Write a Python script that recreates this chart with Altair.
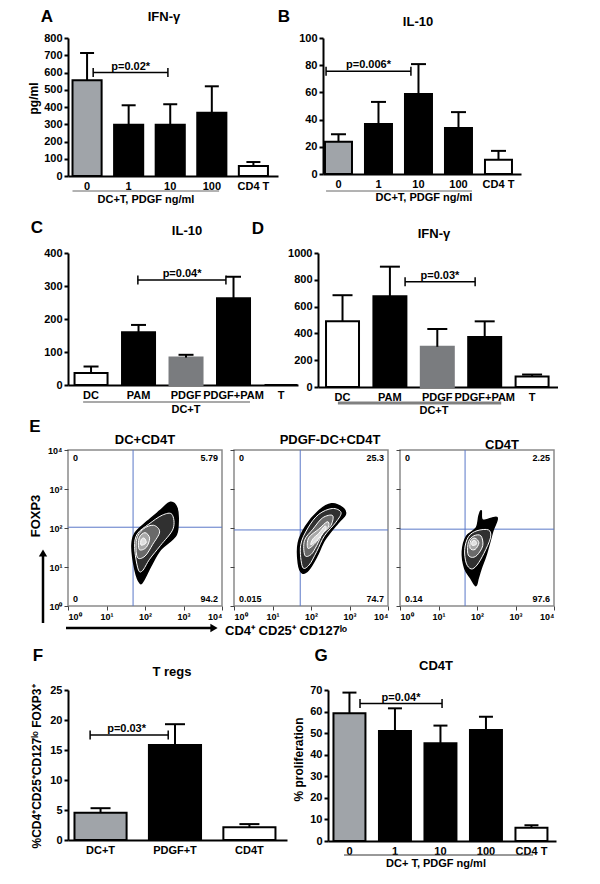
import altair as alt
import pandas as pd

FONT = "Liberation Sans"
GRAY = "#a0a4a9"
DGRAY = "#7a7c7f"
K = "black"
W = "white"

# ---------------- data ----------------
A_CATS = ["0", "1", "10", "100", "CD4 T"]
A_MEAN = [555, 297, 297, 367, 58]
A_UPPER = [713, 410, 416, 520, 81]

B_CATS = ["0", "1", "10", "100", "CD4 T"]
B_MEAN = [23.8, 36.8, 58.8, 33.8, 10.5]
B_UPPER = [29.3, 53, 80.8, 45.5, 17]

C_CATS = ["DC", "PAM", "PDGF", "PDGF+PAM", "T"]
C_MEAN = [36, 160, 83, 263, 0]
C_UPPER = [56, 182, 91.5, 328, 0]

D_CATS = ["DC", "PAM", "PDGF", "PDGF+PAM", "T"]
D_MEAN = [490, 678, 300, 373, 78]
D_UPPER = [685, 898, 433, 490, 93]

F_CATS = ["DC+T", "PDGF+T", "CD4T"]
F_MEAN = [4.55, 15.84, 2.13]
F_UPPER = [5.3, 19.3, 2.65]

G_CATS = ["0", "1", "10", "100", "CD4 T"]
G_MEAN = [59.2, 51, 45.3, 51.5, 6.2]
G_UPPER = [68.8, 61.5, 53.5, 57.6, 7.3]

# flow cytometry (log10 units): contour rings, gates, quadrant percentages
E1_RINGS = [
    [(1.87, 0.59), (1.74, 0.93), (1.66, 1.53), (1.74, 1.87), (2.06, 2.17), (2.40, 2.45), (2.66, 2.66),
     (2.83, 2.51), (2.86, 2.13), (2.79, 1.79), (2.40, 1.44), (2.15, 1.02), (1.97, 0.67)],
    [(1.82, 0.95), (1.73, 1.5), (1.80, 1.85), (2.1, 2.1), (2.45, 2.33), (2.7, 2.35), (2.73, 1.98),
     (2.4, 1.55), (2.12, 1.2), (1.93, 0.9)],
    [(1.80, 1.25), (1.78, 1.7), (1.95, 1.97), (2.22, 2.07), (2.38, 1.9), (2.2, 1.58), (2.0, 1.28)],
    [(1.85, 1.45), (1.85, 1.75), (2.0, 1.88), (2.12, 1.74), (2.03, 1.5)],
    [(1.9, 1.56), (1.9, 1.7), (1.98, 1.74), (2.03, 1.62)],
]
E2_RINGS = [
    [(1.77, 0.85), (1.67, 1.10), (1.67, 1.62), (1.86, 2.04), (2.19, 2.43), (2.53, 2.62), (2.83, 2.51),
     (2.89, 2.34), (2.70, 2.13), (2.36, 1.70), (2.15, 1.27), (1.94, 0.93)],
    [(1.78, 1.0), (1.73, 1.55), (1.92, 2.0), (2.2, 2.35), (2.55, 2.5), (2.78, 2.4), (2.65, 2.15),
     (2.35, 1.8), (2.15, 1.4), (1.95, 1.05)],
    [(1.84, 1.3), (1.83, 1.68), (2.05, 1.97), (2.3, 2.26), (2.56, 2.32), (2.52, 2.07), (2.3, 1.85),
     (2.15, 1.55), (2.0, 1.32)],
    [(1.92, 1.48), (1.94, 1.75), (2.2, 1.97), (2.42, 2.16), (2.46, 2.05), (2.3, 1.86), (2.1, 1.6)],
    [(2.0, 1.57), (2.05, 1.72), (2.2, 1.86), (2.36, 2.05), (2.38, 1.97), (2.2, 1.74)],
]
E3_RINGS = [
    [(1.97, 0.52), (1.84, 0.71), (1.68, 0.97), (1.62, 1.40), (1.73, 1.79), (1.98, 2.0), (2.05, 2.31),
     (2.11, 2.44), (2.15, 2.20), (2.52, 2.27), (2.41, 1.92), (2.24, 1.32), (2.11, 0.97), (2.03, 0.71)],
    [(1.72, 1.1), (1.68, 1.45), (1.78, 1.78), (2.0, 1.93), (2.3, 1.95), (2.35, 1.75), (2.18, 1.35),
     (2.0, 1.05), (1.85, 0.95)],
    [(1.76, 1.35), (1.78, 1.65), (1.92, 1.8), (2.1, 1.8), (2.15, 1.55), (2.0, 1.3), (1.85, 1.25)],
    [(1.82, 1.48), (1.84, 1.68), (1.95, 1.74), (2.05, 1.62), (1.95, 1.45)],
    [(1.87, 1.56), (1.88, 1.66), (1.96, 1.67), (1.98, 1.58)],
]
E_GATE_X = [1.69, 1.72, 1.69]
E_GATE_Y = [2.02, 1.95, 1.97]
E_QUAD = [["0", "5.79", "0", "94.2"], ["0", "25.3", "0.015", "74.7"], ["0", "2.25", "0.14", "97.6"]]
E_TITLES = ["DC+CD4T", "PDGF-DC+CD4T", "CD4T"]
LOG_LABELS = ["10⁰", "10¹", "10²", "10³", "10⁴"]

ONE = pd.DataFrame({"a": [0]})


def txt(text, x, y, size=11, align="center", baseline="middle", angle=0):
    kw = dict(font=FONT, fontWeight="bold", fontSize=size, align=align, baseline=baseline, color="black")
    if angle:
        kw["angle"] = angle
    return alt.Chart(pd.DataFrame({"t": [text]})).mark_text(**kw).encode(
        text="t:N", x=alt.value(x), y=alt.value(y))


def anchor(top, bottom):
    return alt.Chart(ONE).mark_rect(opacity=0).encode(
        x=alt.value(-59), x2=alt.value(-58), y=alt.value(top), y2=alt.value(bottom))


def bar_panel(p):
    cats = p["cats"]
    df = pd.DataFrame({"cat": cats, "mean": p["mean"], "upper": p["upper"],
                       "fill": p["fills"], "stroke": p["strokes"]})
    xs = alt.Scale(domain=cats, paddingInner=p["pi"], paddingOuter=p["po"], align=p["align"])
    ys = alt.Scale(domain=[0, p["ymax"]], nice=False)
    ykw = dict(values=list(range(0, p["ymax"] + 1, p["ystep"])), grid=False, format="d",
               domainColor="black", domainWidth=2, tickColor="black", tickWidth=2, tickSize=4,
               labelFont=FONT, labelFontSize=11, labelFontWeight="bold", labelColor="black",
               labelPadding=2)
    if p.get("ytitle"):
        ykw.update(title=p["ytitle"], titleFont=FONT, titleFontSize=12, titleFontWeight="bold",
                   titleColor="black", titleX=p["ytx"], titleY=p["yty"], titleAngle=270,
                   titleBaseline="middle", titleAlign="center")
    else:
        ykw.update(title=None)
    yaxis = alt.Axis(**ykw)
    xaxis = alt.Axis(title=None, labelAngle=0, ticks=False, domainColor="black", domainWidth=2,
                     labelFont=FONT, labelFontSize=11, labelFontWeight="bold", labelColor="black",
                     labelPadding=4, grid=False)

    def X(f, bp=None):
        if bp is None:
            return alt.X(f"{f}:N", scale=xs, axis=xaxis)
        return alt.X(f"{f}:N", scale=xs, axis=xaxis, bandPosition=bp)

    def Y(f):
        return alt.Y(f"{f}:Q", scale=ys, axis=yaxis)

    h = p["h"]
    layers = []
    layers.append(alt.Chart(df).mark_bar(strokeWidth=2, opacity=1).encode(
        x=X("cat"), y=Y("mean"),
        fill=alt.Fill("fill:N", scale=None),
        stroke=alt.Stroke("stroke:N", scale=None)))
    layers.append(alt.Chart(df).mark_rule(color="black", strokeWidth=2).encode(
        x=X("cat"), y=Y("mean"), y2="upper:Q"))
    layers.append(alt.Chart(df).mark_tick(color="black", thickness=2, size=p["cap"], opacity=1).encode(
        x=X("cat"), y=Y("upper")))

    b = p["bracket"]
    bdf = pd.DataFrame({"a": [b["a"]], "b": [b["b"]], "m": [b["m"]], "y": [b["y"]], "label": [b["label"]]})
    layers.append(alt.Chart(bdf).mark_rule(color="black", strokeWidth=1.5).encode(
        x=X("a", b["bpa"]), x2=alt.X2("b:N", bandPosition=b["bpb"]), y=Y("y")))
    for f, bp in (("a", b["bpa"]), ("b", b["bpb"])):
        layers.append(alt.Chart(bdf).mark_tick(orient="vertical", color="black", thickness=1.5,
                                               size=9, opacity=1).encode(x=X(f, bp), y=Y("y")))
    layers.append(alt.Chart(bdf).mark_text(font=FONT, fontSize=11, fontWeight="bold",
                                           baseline="alphabetic", dy=-3, color="black").encode(
        x=X("m", b["bpm"]), y=Y("y"), text="label:N"))

    u = p.get("underline")
    if u:
        udf = pd.DataFrame({"a": [u["a"]], "b": [u["b"]]})
        layers.append(alt.Chart(udf).mark_rule(color=u["color"], strokeWidth=u["w"]).encode(
            x=X("a", u["bpa"]), x2=alt.X2("b:N", bandPosition=u["bpb"]),
            y=alt.value(h + u["dy"])))
    g = p.get("group")
    if g:
        layers.append(txt(g[0], g[1], h + g[2], 11))
    layers.append(txt(p["title"], p["title_xy"][0], p["title_xy"][1], 13))
    layers.append(txt(p["letter"], p["letter_xy"][0], p["letter_xy"][1], 17))
    if p.get("anchor"):
        layers.append(anchor(*p["anchor"]))
    return alt.layer(*layers).properties(width=p["w"], height=h)


RING_FILLS = ["#000000", "#303030", "#6a6a6a", "#a8a8a8", "#dedede"]


def flow_panel(idx, rings, w, h, ylabels, title_dx, title_dy, extra=()):
    rows = []
    for k, ring in enumerate(rings):
        for i, (x, y) in enumerate(ring):
            rows.append({"ring": k, "i": i, "x": x, "y": y})
    df = pd.DataFrame(rows)
    xs = alt.Scale(domain=[0, 4], nice=False, zero=False)
    ys = alt.Scale(domain=[0, 4], nice=False, zero=False)
    expr = "[" + ",".join(f"'{s}'" for s in LOG_LABELS) + "][datum.value]"
    common = dict(values=[0, 1, 2, 3, 4], grid=False, domain=False, tickColor="#444", tickSize=4,
                  tickWidth=1, labelFont=FONT, labelFontSize=9, labelFontWeight="bold",
                  labelColor="black", title=None, labelExpr=expr, labelPadding=2)
    xaxis = alt.Axis(**common)
    yaxis = alt.Axis(labels=ylabels, **common)
    layers = []
    gdf = pd.DataFrame({"gx": [E_GATE_X[idx]], "gy": [E_GATE_Y[idx]]})
    layers.append(alt.Chart(gdf).mark_rule(color="#5a78c8", strokeWidth=1).encode(
        x=alt.X("gx:Q", scale=xs, axis=xaxis)))
    layers.append(alt.Chart(gdf).mark_rule(color="#5a78c8", strokeWidth=1).encode(
        y=alt.Y("gy:Q", scale=ys, axis=yaxis)))
    for k in range(len(rings)):
        layers.append(alt.Chart(df).transform_filter(alt.datum.ring == k).mark_line(
            interpolate="cardinal-closed", filled=True, fill=RING_FILLS[k],
            stroke="black" if k == 0 else "white", strokeWidth=1.5 if k == 0 else 1).encode(
            x=alt.X("x:Q", scale=xs, axis=xaxis),
            y=alt.Y("y:Q", scale=ys, axis=yaxis),
            order="i:Q"))
    q = E_QUAD[idx]
    layers.append(txt(q[0], 5, 8, 9, align="left"))
    layers.append(txt(q[1], w - 4, 8, 9, align="right"))
    layers.append(txt(q[2], 5, h - 7, 9, align="left"))
    layers.append(txt(q[3], w - 4, h - 7, 9, align="right"))
    layers.append(txt(E_TITLES[idx], w / 2 + title_dx, title_dy, 13))
    layers.extend(extra)
    return alt.layer(*layers).properties(
        width=w, height=h, view=alt.ViewBackground(stroke="#8a8a8a", strokeWidth=1.5))


A = bar_panel(dict(cats=A_CATS, mean=A_MEAN, upper=A_UPPER, fills=[GRAY, K, K, K, W], strokes=[K] * 5,
                   w=210, h=138, ymax=800, ystep=100, pi=0.30, po=0.175, align=0.31, cap=14,
                   title="IFN-γ", title_xy=(96, -21), letter="A", letter_xy=(-21, -21),
                   ytitle="pg/ml", ytx=-35, yty=60,
                   bracket=dict(a="0", b="10", m="1", y=600, label="p=0.02*", bpa=0.71, bpb=0.42, bpm=0.57),
                   underline=dict(a="0", b="100", bpa=0.0, bpb=0.75, dy=15, color="#666", w=1),
                   group=("DC+T, PDGF ng/ml", 78, 24), anchor=(-29, 173)))

B = bar_panel(dict(cats=B_CATS, mean=B_MEAN, upper=B_UPPER, fills=[GRAY, K, K, K, W], strokes=[K] * 5,
                   w=198, h=136, ymax=100, ystep=20, pi=0.325, po=0.1375, align=0.18, cap=15,
                   title="IL-10", title_xy=(95, -16), letter="B", letter_xy=(-39, -21),
                   bracket=dict(a="0", b="10", m="1", y=75.5, label="p=0.006*", bpa=0.04, bpb=0.22, bpm=0.13),
                   underline=dict(a="0", b="100", bpa=0.04, bpb=1.0, dy=17, color="#666", w=1),
                   group=("DC+T, PDGF ng/ml", 101, 24)))

C = bar_panel(dict(cats=C_CATS, mean=C_MEAN, upper=C_UPPER, fills=[W, K, DGRAY, K, W],
                   strokes=[K, K, DGRAY, K, K],
                   w=230, h=132, ymax=400, ystep=100, pi=0.305, po=0.074, align=0.93, cap=15,
                   title="IL-10", title_xy=(119, -22), letter="C", letter_xy=(-31, -25),
                   bracket=dict(a="PAM", b="PDGF+PAM", m="PDGF", y=318, label="p=0.04*",
                                bpa=0.48, bpb=0.27, bpm=0.38),
                   underline=dict(a="DC", b="PDGF+PAM", bpa=0.26, bpb=1.0, dy=17, color="#555", w=1.2),
                   group=("DC+T", 118, 25), anchor=(-42, 164)))

D = bar_panel(dict(cats=D_CATS, mean=D_MEAN, upper=D_UPPER, fills=[W, K, DGRAY, K, W],
                   strokes=[K, K, DGRAY, K, K],
                   w=240, h=134, ymax=1000, ystep=200, pi=0.304, po=0.184, align=0.46, cap=20,
                   title="IFN-γ", title_xy=(116, -19), letter="D", letter_xy=(-60, -24),
                   bracket=dict(a="PAM", b="PDGF+PAM", m="PDGF", y=785, label="p=0.03*",
                                bpa=0.96, bpb=0.21, bpm=0.58),
                   underline=dict(a="DC", b="PDGF+PAM", bpa=0.36, bpb=1.0, dy=16, color="#808080", w=3),
                   group=("DC+T", 116, 24)))

F = bar_panel(dict(cats=F_CATS, mean=F_MEAN, upper=F_UPPER, fills=[GRAY, K, W], strokes=[K] * 3,
                   w=219, h=150, ymax=25, ystep=5, pi=0.30, po=0.121, align=0.36, cap=20,
                   title="T regs", title_xy=(104, -18), letter="F", letter_xy=(-30, -34),
                   ytitle="%CD4⁺CD25⁺CD127ˡᵒ FOXP3⁺", ytx=-32, yty=76,
                   bracket=dict(a="DC+T", b="PDGF+T", m="DC+T", y=17.5, label="p=0.03*",
                                bpa=0.30, bpb=0.37, bpm=1.0),
                   anchor=(-48, 186)))

G = bar_panel(dict(cats=G_CATS, mean=G_MEAN, upper=G_UPPER, fills=[GRAY, K, K, K, W], strokes=[K] * 5,
                   w=228, h=151, ymax=70, ystep=10, pi=0.297, po=0.154, align=0.39, cap=14,
                   title="CD4T", title_xy=(108, -24), letter="G", letter_xy=(-7, -34),
                   ytitle="% proliferation", ytx=-30, yty=69,
                   bracket=dict(a="0", b="10", m="1", y=63.7, label="p=0.04*", bpa=0.83, bpb=0.55, bpm=0.69),
                   underline=dict(a="0", b="CD4 T", bpa=0.33, bpb=0.55, dy=14, color="#333", w=1),
                   group=("DC+ T, PDGF ng/ml", 108, 23)))

EW, EH = 154, 156
e1_extra = [
    txt("E", -33, -23, 17),
    txt("FOXP3", -32, 66, 13, angle=270),
    alt.Chart(ONE).mark_rule(color="black", strokeWidth=2.5).encode(
        x=alt.value(-25), y=alt.value(173), y2=alt.value(106)),
    alt.Chart(ONE).mark_point(shape="triangle-up", filled=True, color="black", size=70, opacity=1).encode(
        x=alt.value(-25), y=alt.value(103)),
    alt.Chart(ONE).mark_rule(color="black", strokeWidth=2.5).encode(
        x=alt.value(-2), x2=alt.value(143), y=alt.value(178)),
    alt.Chart(ONE).mark_point(shape="triangle-right", filled=True, color="black", size=70, opacity=1).encode(
        x=alt.value(146), y=alt.value(178)),
    txt("CD4⁺ CD25⁺ CD127ˡᵒ", 157, 185, 13, align="left", baseline="alphabetic"),
    anchor(-31, 191),
]
E1 = flow_panel(0, E1_RINGS, EW, EH, True, 0, -10, e1_extra)
E2 = flow_panel(1, E2_RINGS, EW, EH, False, 19, -10)
E3 = flow_panel(2, E3_RINGS, EW, EH, False, 25, -5)

row1 = alt.hconcat(A, B, spacing=45, bounds="flush")
row2 = alt.hconcat(C, D, spacing=20, bounds="flush")
row3 = alt.hconcat(E1, E2, E3, spacing=12, bounds="flush")
row4 = alt.hconcat(F, G, spacing=41, bounds="flush")

chart = alt.vconcat(row1, row2, row3, row4, spacing=0, padding=0).configure(
    font=FONT).configure_view(stroke=None)

chart.save("out.html", embed_options={"renderer": "svg", "actions": False})
